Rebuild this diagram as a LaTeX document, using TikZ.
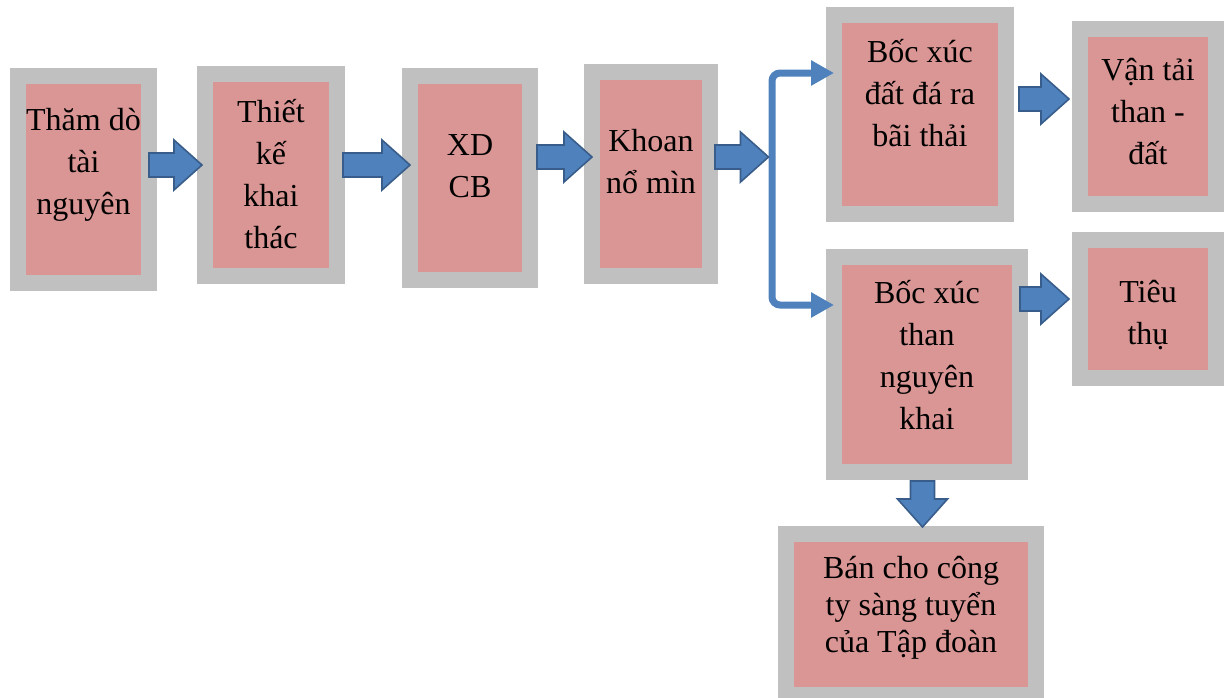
\documentclass[tikz,border=0pt]{standalone}
\usepackage{fontspec}
\setmainfont{Liberation Serif}
\usetikzlibrary{arrows.meta,calc}
\definecolor{stagegray}{RGB}{192,192,192}
\definecolor{stagepink}{RGB}{217,150,148}
\definecolor{arrowblue}{RGB}{79,129,189}
\definecolor{arrowedge}{RGB}{56,93,138}
\newcommand{\stagetext}[4]{\parbox[c][#2pt][t]{#1pt}{\centering\rule{0pt}{#3pt}#4}}

\begin{document}
\begin{tikzpicture}[x=1pt, y=-1pt,
  stage/.style={draw=stagegray, fill=stagepink, line width=16pt, inner sep=0pt, outer sep=0pt, font=\fontsize{32pt}{42pt}\selectfont},
  fatarrow/.style={draw=arrowedge, fill=arrowblue, line width=1.6pt,
    to path={let \p1=(\tikztostart), \p2=(\tikztotarget), \p3=($(\p2)!28pt!(\p1)$) in
      ($(\p1)!12pt!90:(\p2)$) -- ($(\p3)!12pt!-90:(\p1)$) -- ($(\p3)!25pt!-90:(\p1)$) -- (\p2)
      -- ($(\p3)!25pt!90:(\p1)$) -- ($(\p3)!12pt!90:(\p1)$) -- ($(\p1)!12pt!-90:(\p2)$) -- cycle}},
  branch/.style={draw=arrowblue, line width=7pt, rounded corners=8pt, -{Triangle[length=23pt,width=24pt]}}]
\useasboundingbox (0,0) rectangle (1230,697);
\node[stage] (tham) at (83.5,179.5) {\stagetext{131}{207}{54}{Thăm dò\\tài\\nguyên}};
\node[stage] (thietke) at (271,175) {\stagetext{132}{202}{48}{Thiết\\kế\\khai\\thác}};
\node[stage] (xd) at (470,178) {\stagetext{120}{204}{79}{XD\\CB}};
\node[stage] (khoan) at (651,174) {\stagetext{118}{204}{79}{Khoan\\nổ mìn}};
\node[stage] (bocdat) at (920,114.5) {\stagetext{172}{199}{47}{Bốc xúc\\đất đá ra\\bãi thải}};
\node[stage] (vantai) at (1148,116.5) {\stagetext{136}{175}{51}{Vận tải\\than -\\đất}};
\node[stage] (bocthan) at (927,364.5) {\stagetext{186}{215}{46}{Bốc xúc\\than\\nguyên\\khai}};
\node[stage] (tieuthu) at (1148,309) {\stagetext{136}{138}{62}{Tiêu\\thụ}};
\node[stage, font=\fontsize{32pt}{37pt}\selectfont] (ban) at (911,614.5) {\stagetext{250}{161}{44}{Bán cho công\\ty sàng tuyển\\của Tập đoàn}};
\coordinate (split) at (772,157);
\draw[branch] (split) |- ([yshift=41.5pt]bocdat.west);
\draw[branch] (split) |- ([yshift=59.5pt]bocthan.west);
\draw[fatarrow] ([yshift=14.5pt]tham.east) to ([xshift=-3pt,yshift=10pt]thietke.west);
\draw[fatarrow] ([xshift=6pt,yshift=10pt]thietke.east) to ([yshift=13pt]xd.west);
\draw[fatarrow] ([xshift=7pt,yshift=21pt]xd.east) to ([yshift=17pt]khoan.west);
\draw[fatarrow] ([xshift=5pt,yshift=17pt]khoan.east) to ([xshift=-3.5pt]split);
\draw[fatarrow] ([xshift=13pt,yshift=15.5pt]bocdat.east) to ([xshift=-11pt,yshift=17.5pt]vantai.west);
\draw[fatarrow] ([yshift=65.5pt]bocthan.east) to ([xshift=-11pt,yshift=10pt]tieuthu.west);
\draw[fatarrow] ([xshift=-4.5pt,yshift=-9pt]bocthan.south) to ([xshift=11.5pt,yshift=7pt]ban.north);
\end{tikzpicture}
\end{document}
